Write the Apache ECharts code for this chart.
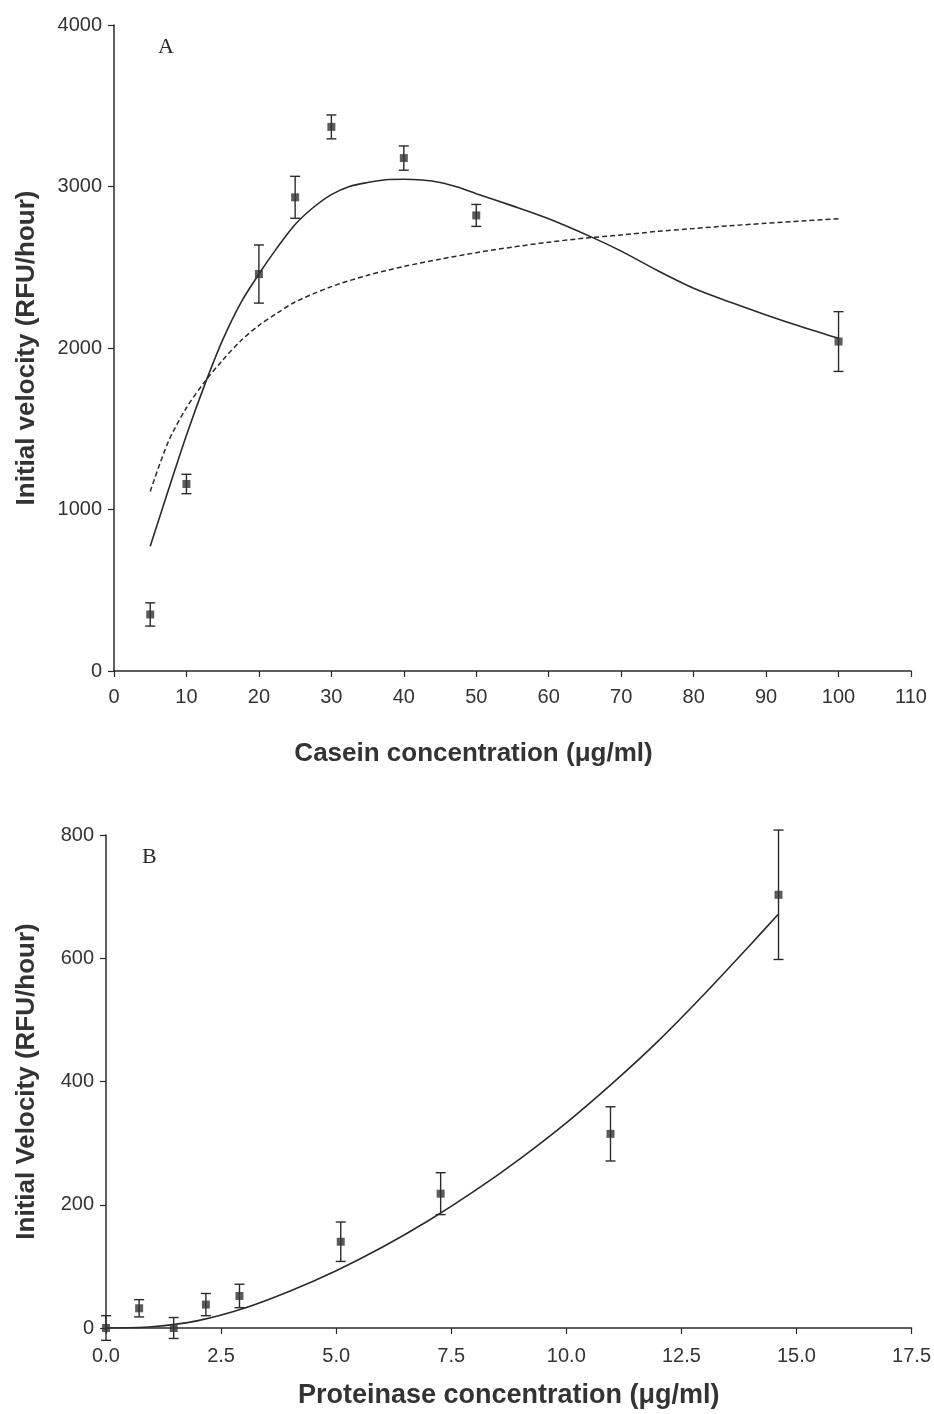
<!DOCTYPE html>
<html>
<head>
<meta charset="utf-8">
<script src="https://cdn.jsdelivr.net/npm/echarts@6/dist/echarts.min.js"></script>
<style>
  html, body { margin: 0; padding: 0; background: #fff; }
  #chart { width: 934px; height: 1414px; }
</style>
</head>
<body>
<div id="chart"></div>
<script>
// ---- panel A : casein ----
var caseinConc = [5, 10, 20, 25, 30, 40, 50, 100];
var caseinVel  = [350, 1158, 2458, 2933, 3369, 3176, 2821, 2040];
var caseinErr  = [72, 60, 180, 130, 74, 75, 68, 185];

// fitted curves
var solidX = [5, 7.5, 10, 12.5, 15, 17.5, 20, 22.5, 25, 27.5, 30, 32.5, 35, 37.5, 40, 42.5, 45, 47.5, 50, 55, 60, 66, 70, 75, 80, 85, 90, 95, 100];
var solidY = [772, 1120, 1460, 1770, 2050, 2280, 2458, 2620, 2765, 2870, 2950, 3000, 3025, 3042, 3045, 3040, 3025, 2995, 2955, 2880, 2800, 2685, 2600, 2480, 2370, 2285, 2205, 2130, 2060];
var dashX  = [5, 7.5, 10, 12.5, 15, 17.5, 20, 22.5, 25, 30, 35, 40, 45, 50, 55, 60, 65, 70, 75, 80, 85, 90, 95, 100];
var dashY  = [1112, 1420, 1630, 1790, 1925, 2045, 2140, 2215, 2285, 2380, 2450, 2505, 2550, 2590, 2625, 2655, 2680, 2700, 2722, 2740, 2757, 2772, 2787, 2800];

// ---- panel B : proteinase ----
var protConc = [0, 0.72, 1.47, 2.17, 2.9, 5.1, 7.27, 10.96, 14.61];
var protVel  = [0, 32, 0, 38, 52, 140, 218, 315, 703];
var protErr  = [20, 14, 17, 18, 19, 32, 34, 44, 105];

var fitBX = [0, 1, 2, 3, 4, 5, 6, 7, 8, 9, 10, 11, 12, 13, 14, 14.6];
var fitBY = [0, 2, 12, 32, 60, 93, 131, 174, 222, 275, 333, 397, 466, 542, 622, 671];

function pairs(xs, ys) {
    return xs.map(function (x, i) { return [x, ys[i]]; });
}
function errData(xs, ys, es) {
    return xs.map(function (x, i) { return [x, ys[i] - es[i], ys[i] + es[i]]; });
}

var ink = '#2a2a2a';
var font = 'Liberation Sans, Arial, sans-serif';

function errorBars(params, api) {
    var x = api.value(0);
    var lo = api.coord([x, api.value(1)]);
    var hi = api.coord([x, api.value(2)]);
    var w = 5;
    var st = { stroke: ink, lineWidth: 1.4 };
    return {
        type: 'group',
        children: [
            { type: 'line', shape: { x1: lo[0], y1: lo[1], x2: hi[0], y2: hi[1] }, style: st },
            { type: 'line', shape: { x1: lo[0] - w, y1: lo[1], x2: lo[0] + w, y2: lo[1] }, style: st },
            { type: 'line', shape: { x1: hi[0] - w, y1: hi[1], x2: hi[0] + w, y2: hi[1] }, style: st }
        ]
    };
}

function axisCommon() {
    return {
        axisLine: { show: true, onZero: false, lineStyle: { color: ink, width: 1.5 } },
        axisTick: { show: true, inside: false, length: 6, lineStyle: { color: ink, width: 1.2 } },
        axisLabel: { color: '#333', fontSize: 20, fontFamily: font, margin: 12 },
        splitLine: { show: false },
        nameTextStyle: { color: '#333', fontSize: 26, fontWeight: 'bold', fontFamily: font }
    };
}

function mk(extra) {
    var a = axisCommon();
    for (var k in extra) {
        if (k === 'axisLabel' || k === 'nameTextStyle') {
            for (var j in extra[k]) a[k][j] = extra[k][j];
        } else {
            a[k] = extra[k];
        }
    }
    return a;
}

function plain(v) { return String(v); }

var chart = echarts.init(document.getElementById('chart'), null, { renderer: 'canvas' });

var option = {
    backgroundColor: '#ffffff',
    animation: false,
    grid: [
        { left: 114, top: 25, width: 797, height: 646 },
        { left: 106, top: 835, width: 807, height: 493 }
    ],
    xAxis: [
        mk({
            gridIndex: 0, type: 'value', min: 0, max: 110, interval: 10,
            name: 'Casein concentration (\u03bcg/ml)', nameLocation: 'middle', nameGap: 70,
            axisLabel: { margin: 16, formatter: plain },
            nameTextStyle: { padding: [0, 78, 0, 0] }
        }),
        mk({
            gridIndex: 1, type: 'value', min: 0, max: 17.5, interval: 2.5,
            name: 'Proteinase concentration (\u03bcg/ml)', nameLocation: 'middle', nameGap: 54,
            axisLabel: { margin: 18, formatter: function (v) { return v.toFixed(1); } },
            nameTextStyle: { fontSize: 27 }
        })
    ],
    yAxis: [
        mk({
            gridIndex: 0, type: 'value', min: 0, max: 4000, interval: 1000,
            name: 'Initial velocity (RFU/hour)', nameLocation: 'middle', nameGap: 74,
            axisLabel: { formatter: plain }
        }),
        mk({
            gridIndex: 1, type: 'value', min: 0, max: 800, interval: 200,
            name: 'Initial Velocity (RFU/hour)', nameLocation: 'middle', nameGap: 66,
            axisLabel: { formatter: plain }
        })
    ],
    graphic: [
        { type: 'text', left: 158, top: 36, style: { text: 'A', fontSize: 22, fontFamily: 'Liberation Serif, serif', fill: ink } },
        { type: 'text', left: 142, top: 846, style: { text: 'B', fontSize: 22, fontFamily: 'Liberation Serif, serif', fill: ink } }
    ],
    series: [
        {
            type: 'line', xAxisIndex: 0, yAxisIndex: 0, data: pairs(dashX, dashY),
            smooth: 0.3, showSymbol: false, lineStyle: { color: ink, width: 1.5, type: [5, 3] }
        },
        {
            type: 'line', xAxisIndex: 0, yAxisIndex: 0, data: pairs(solidX, solidY),
            smooth: 0.3, showSymbol: false, lineStyle: { color: ink, width: 1.6 }
        },
        {
            type: 'custom', xAxisIndex: 0, yAxisIndex: 0, renderItem: errorBars,
            data: errData(caseinConc, caseinVel, caseinErr), encode: { x: 0, y: [1, 2] }, z: 3
        },
        {
            type: 'scatter', xAxisIndex: 0, yAxisIndex: 0, data: pairs(caseinConc, caseinVel),
            symbol: 'rect', symbolSize: 8, itemStyle: { color: '#333' }, z: 4
        },
        {
            type: 'line', xAxisIndex: 1, yAxisIndex: 1, data: pairs(fitBX, fitBY),
            smooth: 0.3, showSymbol: false, lineStyle: { color: ink, width: 1.6 }
        },
        {
            type: 'custom', xAxisIndex: 1, yAxisIndex: 1, renderItem: errorBars, clip: false,
            data: errData(protConc, protVel, protErr), encode: { x: 0, y: [1, 2] }, z: 3
        },
        {
            type: 'scatter', xAxisIndex: 1, yAxisIndex: 1, data: pairs(protConc, protVel),
            symbol: 'rect', symbolSize: 8, itemStyle: { color: '#333' }, clip: false, z: 4
        }
    ]
};

chart.setOption(option);
</script>
</body>
</html>
